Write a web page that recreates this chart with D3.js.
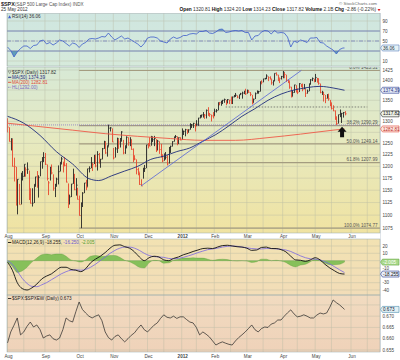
<!DOCTYPE html>
<html><head><meta charset="utf-8">
<script src="https://cdn.jsdelivr.net/npm/d3@7"></script>
<style>
body{margin:0;background:#fff}
svg{display:block}
text{font-family:"Liberation Sans",Arial,sans-serif}
</style>
</head><body>
<svg id="c" width="400" height="360"></svg>
<script>
// ---------------- DATA ----------------
const monthLabels = ["Aug","Sep","Oct","Nov","Dec","2012","Feb","Mar","Apr","May","Jun"];
const monthStartIdx = [0,23,44,65,86,107,127,147,169,189,211];
const midMonthIdx = [10,32,54,75,96,116,137,157,178,199,221];
const prevClose = 1292.28;
const closes = [
1286.94,1254.05,1260.34,1200.07,1199.38,1119.46,1172.53,1120.76,1172.64,1178.81,1204.49,1192.76,1193.89,1140.65,1123.53,1123.82,1162.35,1177.60,1159.27,1176.80,1210.08,1212.92,1218.89,
1204.42,1173.97,1165.24,1198.62,1185.90,1154.23,1162.27,1172.87,1188.68,1209.11,1216.01,1204.09,1202.09,1166.76,1129.56,1136.43,1162.95,1175.38,1151.06,1160.40,1131.42,
1099.23,1123.95,1144.03,1164.97,1155.46,1194.89,1195.54,1207.25,1203.66,1224.58,1200.86,1225.38,1209.88,1215.39,1238.25,1254.19,1229.05,1242.00,1284.59,1285.09,1253.30,
1218.28,1237.90,1261.15,1253.23,1261.12,1275.92,1229.10,1239.69,1263.85,1251.78,1257.81,1236.91,1216.13,1215.65,1192.98,1188.04,1161.79,1158.67,1192.55,1195.19,1246.96,
1244.58,1244.28,1257.08,1258.47,1261.01,1234.35,1255.19,1236.47,1225.73,1211.82,1215.75,1219.66,1205.35,1241.30,1243.72,1254.00,1265.33,1265.43,1249.64,1263.02,1257.60,
1277.06,1277.30,1281.06,1277.81,1280.70,1292.08,1292.48,1295.50,1289.09,1293.67,1308.04,1314.50,1315.38,1316.00,1314.65,1326.06,1318.43,1316.33,1313.01,1312.41,
1324.09,1325.54,1344.90,1344.33,1347.05,1349.96,1351.95,1342.64,1351.77,1350.50,1343.23,1358.04,1361.23,1362.21,1357.66,1363.46,1365.74,1367.59,1372.18,1365.68,
1374.09,1369.63,1364.33,1343.36,1352.63,1365.91,1370.87,1371.09,1395.95,1394.28,1402.60,1404.17,1409.75,1405.52,1402.89,1392.78,1397.11,1416.51,1412.52,1405.54,1403.28,1408.47,
1419.04,1413.38,1398.96,1398.08,1382.20,1358.59,1368.71,1387.57,1370.26,1369.57,1390.78,1385.14,1376.92,1378.53,1366.94,1371.97,1390.69,1399.98,1403.36,1397.91,
1405.82,1402.31,1391.57,1369.10,1369.58,1363.72,1354.58,1357.99,1353.39,1338.35,1330.66,1324.80,1304.86,1295.22,1315.99,1316.63,1318.86,1320.68,1317.82];
const highs = [
1307.38,1286.58,1261.70,1260.10,1218.70,1199.00,1172.88,1163.00,1186.29,1190.00,1204.49,1198.00,1208.50,1191.00,1154.00,1154.00,1162.35,1178.00,1190.00,1181.00,1210.10,1220.00,1230.71,
1229,1204,1169,1198.62,1204,1183,1163,1176,1202,1209.11,1220.39,1210,1220,1207,1164,1141,1163,1195,1184,1175,1155,
1138.99,1125.12,1146,1165,1171.4,1194.89,1200,1220,1207,1224.61,1224,1233,1229,1216,1240,1256,1254,1246,1292.66,1287,1284,
1240,1242,1263,1260,1262,1277.6,1258,1246,1266,1264,1264,1259,1239,1224,1215,1197,1187,1172.7,1197,1203,1247,
1251,1264,1267,1266,1267,1260,1258,1255,1249,1225,1228,1231,1224,1242,1245,1255,1265.4,1269,1266,1263.5,1264,
1284,1279,1283,1282,1282,1296,1294,1297,1295,1303,1308.5,1315,1315.5,1322,1317,1328,1333.5,1320,1316,1322,
1330,1329,1345,1345,1349,1351,1354,1351,1353,1351,1359,1359,1363,1367.8,1362,1364,1368,1371,1373,1378,
1376,1375,1370,1363,1354,1369,1374,1373,1396,1399,1403,1405,1414,1409,1409,1402,1399,1416.6,1419,1413,1404,1410,
1422.38,1419,1413,1401,1397,1383,1374,1388,1387,1379,1392,1390,1391,1390,1378,1376,1391,1402,1406,1403,
1415,1405,1404,1391,1373,1370,1363,1365,1366,1351,1345,1338,1326,1312,1316,1328,1320,1322,1324.2];
const lows = [
1274.73,1254.05,1234.56,1199.54,1168.09,1119.28,1101.54,1120.76,1121.09,1170,1178,1178,1184,1130,1123,1117,1124,1157,1155,1135,1179,1195,1209,
1203,1170,1140,1170,1183,1149,1136,1157,1162,1189,1204,1187,1200,1166,1114,1121,1136,1163,1150,1139,1131,
1098.92,1074.77,1116,1144,1150,1157,1187,1196,1190,1205,1198,1191,1206,1197,1215,1238,1227,1221,1243,1277,1253,
1215,1219,1229,1238,1241,1254,1226,1227,1240,1245,1244,1236,1209,1213,1183,1181,1161,1158.66,1174,1188,1196,
1239,1244,1245,1253,1244,1231,1235,1227,1219,1209,1212,1215,1202,1206,1229,1243,1254,1262,1246,1249,1257,
1258,1269,1266,1271,1274,1281,1285,1285,1277,1290,1290,1307,1309,1309,1306,1307,1313,1311,1300,1307,
1313,1321,1326,1338,1337,1341,1344,1338,1343,1341,1341,1341,1357,1358,1355,1353,1363,1354,1365,1363,
1366,1368,1360,1340,1344,1353,1366,1366,1371,1389,1394,1401,1402,1397,1401,1388,1386,1397,1411,1397,1392,1401,
1404,1404,1395,1392,1378,1357,1359,1368,1369,1365,1370,1382,1372,1377,1358,1366,1372,1388,1397,1394,
1395,1393,1388,1367,1363,1347,1343,1354,1349,1336,1328,1324,1304,1291.98,1295,1310,1296.5,1309,1314.23];

const ma50Idx = [0,10,20,30,40,50,56,64,72,80,88,96,104,112,120,128,136,144,152,160,168,176,184,192,200,207];
const ma50Val = [1312,1296,1268,1232,1205,1174,1170,1180,1190,1200,1215,1222,1232,1240,1255,1270,1290,1312,1330,1350,1365,1375,1381,1384,1380,1374.39];
const ma200Idx = [0,20,40,60,80,100,120,140,160,180,200,207];
const ma200Val = [1296,1288,1280,1272,1266,1261,1257,1257,1263,1271,1280,1282.81];

// RSI(14), sampled every 2 sessions (last = final session)
const rsiVal = [38,31,18,28,35,40,40,35,41,42, 50,52,44,47,42,46,52,50,45,40, 46,44,37,44,47,54,55,54,56,59,
 58,66,58,52,56,60,54,56,52,48, 44,38,45,56,58,58,56,50,48,46, 54,58,55,57,61,61,64,65,64,69,
 69,71,66,65,68,73,74,67,68,70, 71,70,71,67,67,52,60,61,68,71, 70,64,71,66,67,66,58,38,50,47,
 52,50,47,56,56,57,47,46,40,36, 32,24,33,36, 36.06];
// $SPX:$SPXEW ratio, sampled every 2 sessions
const ratioVal = [0.6581,0.6630,0.6660,0.6692,0.6617,0.6630,0.6655,0.6674,0.6652,0.6661,
 0.6640,0.6603,0.6612,0.6617,0.6600,0.6594,0.6603,0.6640,0.6692,0.6680,
 0.6674,0.6720,0.6763,0.6730,0.6714,0.6700,0.6692,0.6700,0.6706,0.6680,
 0.6630,0.6605,0.6594,0.6610,0.6617,0.6600,0.6586,0.6600,0.6615,0.6626,
 0.6645,0.6661,0.6640,0.6630,0.6645,0.6660,0.6670,0.6690,0.6706,0.6695,
 0.6692,0.6700,0.6690,0.6697,0.6697,0.6685,0.6674,0.6670,0.6650,0.6617,
 0.6630,0.6620,0.6608,0.6590,0.6572,0.6580,0.6586,0.6580,0.6575,0.6572,
 0.6590,0.6605,0.6617,0.6630,0.6645,0.6661,0.6640,0.6630,0.6645,0.6652,
 0.6650,0.6665,0.6670,0.6683,0.6683,0.6700,0.6715,0.6728,0.6710,0.6697,
 0.6700,0.6706,0.6700,0.6692,0.6692,0.6705,0.6714,0.6710,0.6714,0.6740,
 0.6772,0.6760,0.6750,0.6737, 0.6730];
// MACD(12,26,9) and signal, sampled every 3 sessions
const macdVal = [-2,-13,-30,-38,-40,-37,-32,-25,-21,-18, -13,-9,-9,-12,-13,-15,-11,-3,2,6,
 11,17,21,21.5,19,17,12,5,0,4, 6,5,1,0,3,5,8,10,12.5,14.5, 16.5,17,16.5,18.5,20.5,21,20,19,18.5,17,
 14,14.5,18,18.5,16.5,16.5,15,12,6,1, 0.5,-1,1,4,1,-5,-10,-14,-17.5,-18.255];
const signalVal = [0,-5,-14,-24,-31,-35,-35.5,-33,-30,-26, -22,-18,-15,-13,-12.5,-13,-12,-9,-5,0,
 5,10,14,17,18.5,18.5,17,14,10,7, 5.5,5,4.5,3,2.5,3,4.5,6.5,8.5,11, 13,15,16,17,18.5,19.5,20,19.5,18.5,17.5,
 16.5,16,16,16.5,16.5,16,15.5,14.5,12.5,9.5, 6.5,4,2.5,2,1,-1.5,-4.5,-8.5,-12.5,-16.25];

const fibLevels = [1423.51,1290.29,1249.14,1207.99,1074.77];
const fibLabels = ["0.0% 1423.51","38.2% 1290.29","50.0% 1249.14","61.8% 1207.99","100.0% 1074.77"];
const fibStartIdx = 44;
const hlLevel = 1292.00;
const resistLevel = 1334, resistIdx = [134, 221];
const trendPts = [[82,1158.66],[180.5,1424]];
const arrowAt = [205.5, 1288];
const priceTicks = [1075,1100,1125,1150,1175,1200,1225,1250,1275,1300,1325,1350,1375,1400,1425];
const rsiTicks = [90,70,50,30,10];
const macdTicks = [20,10,0,-10,-20,-30,-40];
const ratioTicks = [0.655,0.660,0.665,0.670,0.675];

// ---------------- LAYOUT ----------------
const svg = d3.select("#c");
const L = 7, R = 380;
const P = {rsi:[13.5,66], price:[67,233], macd:[239,295], ratio:[295,352]};
const FS = 4.6;
const x = d3.scaleLinear().domain([-0.3, 228.8]).range([L, R]);
const yR = d3.scaleLinear().domain([0,105]).range([P.rsi[1], P.rsi[0]]);
const yP = d3.scaleLog().domain([1065.5,1432.6]).range([P.price[1], P.price[0]]);
const yM = d3.scaleLinear().domain([-46.8,29.5]).range([P.macd[1], P.macd[0]]);
const yQ = d3.scaleLinear().domain([0.6541,0.6794]).range([P.ratio[1], P.ratio[0]]);

const step2 = d3.range(0,207,2).concat([207]);
const step3 = d3.range(0,208,3);

const defs = svg.append("defs");
function grad(id, stops){
  const g = defs.append("linearGradient").attr("id",id).attr("x1",0).attr("y1",0).attr("x2",0).attr("y2",1);
  stops.forEach(s=>g.append("stop").attr("offset",s[0]).attr("stop-color",s[1]));
}
grad("gRsi",[[0,"#cfe6e0"],[1,"#d6eadb"]]);
grad("gPrice",[[0,"#d7e9d6"],[0.45,"#e6e9bf"],[1,"#f0e3a2"]]);
grad("gMacd",[[0,"#f2e2b2"],[1,"#f2ddb8"]]);
grad("gRatio",[[0,"#f1dbc0"],[1,"#efd2b9"]]);
function clip(id, p){ defs.append("clipPath").attr("id",id).append("rect").attr("x",L).attr("y",p[0]).attr("width",R-L).attr("height",p[1]-p[0]); }
clip("cRsi",P.rsi); clip("cPrice",P.price); clip("cMacd",P.macd); clip("cRatio",P.ratio);

function panel(p, fill, ticks, yS){
  svg.append("rect").attr("x",L).attr("y",p[0]).attr("width",R-L).attr("height",p[1]-p[0]).attr("fill",`url(#${fill})`);
  const g = svg.append("g").attr("stroke","#b9bba5").attr("stroke-width",0.5).attr("opacity",0.8);
  monthStartIdx.concat(midMonthIdx).forEach(i=>{ const xx = x(i); if(xx>L && xx<R) g.append("line").attr("x1",xx).attr("x2",xx).attr("y1",p[0]).attr("y2",p[1]); });
  ticks.forEach(t=>{ const yy=yS(t); if(yy>p[0]&&yy<p[1]) g.append("line").attr("x1",L).attr("x2",R).attr("y1",yy).attr("y2",yy); });
}
panel(P.rsi,"gRsi",rsiTicks,yR);
panel(P.price,"gPrice",priceTicks,yP);
panel(P.macd,"gMacd",macdTicks,yM);
panel(P.ratio,"gRatio",ratioTicks,yQ);

// value tags (positions from the last data values)
const tags = [
  [yR(rsiVal[rsiVal.length-1]),"36.06","#5b7fc0","#e6f2f4","#234"],
  [yP(ma50Val[ma50Val.length-1]),"1374.39","#2a3a90","#e4ecf8","#1f2c7c"],
  [yP(closes[closes.length-1]),"1317.82","#222","#eef2e8","#111"],
  [yP(ma200Val[ma200Val.length-1]),"1282.81","#e04a3a","#fbe6e0","#c02a1a"],
  [yM(macdVal[macdVal.length-1]-signalVal[signalVal.length-1]),"-2.005","#6aaa48","#a8d88a","#fff"],
  [yM(macdVal[macdVal.length-1]),"-18.255","#2a3a90","#e8eef8","#111"],
  [yQ(ratioVal[ratioVal.length-1]),"0.673","#4a8fb0","#e2f0f4","#123"]
];
// axis tick labels (right); labels hidden behind a value tag are skipped
function rlabels(ticks, yS, fmt){
  ticks.forEach(t=>{
    const yy = yS(t);
    if(tags.some(g=>Math.abs(g[0]-yy)<4.6)) return;
    svg.append("text").attr("x",382.5).attr("y",yy+1.6).attr("font-size",FS).attr("fill","#444").text(fmt(t));
  });
}
rlabels(rsiTicks,yR,d=>d);
rlabels(priceTicks,yP,d=>d);
rlabels(macdTicks,yM,d=>d);
rlabels(ratioTicks,yQ,d3.format(".3f"));

// ---- RSI ----
const rsiG = svg.append("g").attr("clip-path","url(#cRsi)");
const rsiPts = step2.map((i,k)=>[i,rsiVal[k]]);
defs.append("clipPath").attr("id","cAbove").append("rect").attr("x",L).attr("y",P.rsi[0]).attr("width",R-L).attr("height",yR(70)-P.rsi[0]);
defs.append("clipPath").attr("id","cBelow").append("rect").attr("x",L).attr("y",yR(30)).attr("width",R-L).attr("height",P.rsi[1]-yR(30));
rsiG.append("path").datum(rsiPts).attr("clip-path","url(#cAbove)").attr("fill","#6fa9c4")
  .attr("d",d3.area().x(d=>x(d[0])).y0(yR(70)).y1(d=>yR(d[1])));
rsiG.append("path").datum(rsiPts).attr("clip-path","url(#cBelow)").attr("fill","#5f9fb8")
  .attr("d",d3.area().x(d=>x(d[0])).y0(yR(30)).y1(d=>yR(d[1])));
[70,30].forEach(v=>rsiG.append("line").attr("x1",L).attr("x2",R).attr("y1",yR(v)).attr("y2",yR(v)).attr("stroke","#6474b4").attr("stroke-width",0.8));
rsiG.append("line").attr("x1",L).attr("x2",R).attr("y1",yR(50)).attr("y2",yR(50)).attr("stroke","#6474b4").attr("stroke-width",0.7).attr("stroke-dasharray","4,1.5,1,1.5");
rsiG.append("path").datum(rsiPts).attr("fill","none").attr("stroke","#3d5ccc").attr("stroke-width",0.8)
  .attr("d",d3.line().x(d=>x(d[0])).y(d=>yR(d[1])));

// ---- PRICE ----
const pg = svg.append("g").attr("clip-path","url(#cPrice)");
fibLevels.forEach((v,k)=>{
  pg.append("line").attr("x1",x(fibStartIdx)).attr("x2",R).attr("y1",yP(v)).attr("y2",yP(v)).attr("stroke","#a49c80").attr("stroke-width",1.1);
  pg.append("text").attr("x",377.5).attr("y",yP(v)-1.2).attr("text-anchor","end").attr("font-size",FS).attr("fill","#555").text(fibLabels[k]);
});
pg.append("line").attr("x1",L).attr("x2",R).attr("y1",yP(hlLevel)).attr("y2",yP(hlLevel)).attr("stroke","#8a78c8").attr("stroke-width",0.8).attr("stroke-dasharray","1,1");
pg.append("line").attr("x1",x(resistIdx[0])).attr("x2",x(resistIdx[1])).attr("y1",yP(resistLevel)).attr("y2",yP(resistLevel)).attr("stroke","#555").attr("stroke-width",0.7).attr("stroke-dasharray","1.5,1.5");
// bars
closes.forEach((c,i)=>{
  const pc = i===0?prevClose:closes[i-1];
  const col = c>=pc?"#262626":"#e8472e";
  const xx = Math.round(x(i))+0.5;
  pg.append("line").attr("x1",xx).attr("x2",xx).attr("y1",yP(highs[i])).attr("y2",yP(lows[i])).attr("stroke",col).attr("stroke-width",0.9);
  pg.append("line").attr("x1",xx).attr("x2",xx+1.3).attr("y1",yP(c)).attr("y2",yP(c)).attr("stroke",col).attr("stroke-width",0.7);
});
pg.append("path").datum(ma200Idx.map((i,k)=>[i,ma200Val[k]])).attr("fill","none").attr("stroke","#ee5a48").attr("stroke-width",0.9)
  .attr("d",d3.line().curve(d3.curveMonotoneX).x(d=>x(d[0])).y(d=>yP(d[1])));
pg.append("path").datum(ma50Idx.map((i,k)=>[i,ma50Val[k]])).attr("fill","none").attr("stroke","#1f2c7c").attr("stroke-width",0.9)
  .attr("d",d3.line().curve(d3.curveMonotoneX).x(d=>x(d[0])).y(d=>yP(d[1])));
pg.append("line").attr("x1",x(trendPts[0][0])).attr("y1",yP(trendPts[0][1])).attr("x2",x(trendPts[1][0])).attr("y2",yP(trendPts[1][1]))
  .attr("stroke","#5563d8").attr("stroke-width",0.8);
{
  const ax = x(arrowAt[0]), ay = yP(arrowAt[1]);
  pg.append("path").attr("fill","#111").attr("d",`M${ax},${ay} l4.5,5 h-2.5 v5.5 h-4 v-5.5 h-2.5 Z`);
}

// ---- MACD ----
const mg = svg.append("g").attr("clip-path","url(#cMacd)");
const macdPts = step3.map((i,k)=>[i,macdVal[k],signalVal[k]]);
mg.append("path").datum(macdPts).attr("fill","#86c05a").attr("stroke","#4f8f33").attr("stroke-width",0.3)
  .attr("d",d3.area().curve(d3.curveMonotoneX).x(d=>x(d[0])).y0(yM(0)).y1(d=>yM(d[1]-d[2])));
mg.append("path").datum(macdPts).attr("fill","none").attr("stroke","#7a66e0").attr("stroke-width",0.8)
  .attr("d",d3.line().curve(d3.curveMonotoneX).x(d=>x(d[0])).y(d=>yM(d[2])));
mg.append("path").datum(macdPts).attr("fill","none").attr("stroke","#111").attr("stroke-width",0.9)
  .attr("d",d3.line().curve(d3.curveMonotoneX).x(d=>x(d[0])).y(d=>yM(d[1])));

// ---- RATIO ----
const qg = svg.append("g").attr("clip-path","url(#cRatio)");
qg.append("path").datum(step2.map((i,k)=>[i,ratioVal[k]])).attr("fill","none").attr("stroke","#222").attr("stroke-width",0.7)
  .attr("d",d3.line().x(d=>x(d[0])).y(d=>yQ(d[1])));

// panel borders
[P.rsi,P.price,P.macd,P.ratio].forEach(p=>svg.append("rect").attr("x",L).attr("y",p[0]).attr("width",R-L).attr("height",p[1]-p[0])
  .attr("fill","none").attr("stroke","#9aa").attr("stroke-width",0.5));
svg.append("line").attr("x1",R+0.5).attr("x2",R+0.5).attr("y1",P.rsi[0]).attr("y2",P.ratio[1]).attr("stroke","#9ab").attr("stroke-width",0.6).attr("stroke-dasharray","1,1");

// value tags on right axis
tags.forEach(([y, txt, stroke, fill, tcol])=>{
  svg.append("path").attr("d",`M380.5,${y} L382.5,${y-3} H399 V${y+3} H382.5 Z`).attr("fill",fill).attr("stroke",stroke).attr("stroke-width",0.6);
  svg.append("text").attr("x",383).attr("y",y+1.6).attr("font-size",FS).attr("fill",tcol).text(txt);
});

// month labels
[P.price[1]+4.9, P.ratio[1]+6].forEach(yy=>{
  monthLabels.forEach((m,k)=>svg.append("text").attr("x",x(monthStartIdx[k])+1).attr("y",yy).attr("text-anchor","middle")
    .attr("font-size",FS).attr("fill","#444").attr("font-weight",m==="2012"?"bold":"normal").text(m));
});

// header
svg.append("text").attr("x",1).attr("y",5.6).attr("font-size",5.4).attr("font-weight","bold").attr("fill","#222").text("$SPX");
svg.append("text").attr("x",15).attr("y",5.6).attr("font-size",4.6).attr("fill","#555").text("(S&P 500 Large Cap Index) INDX");
svg.append("text").attr("x",1).attr("y",11.3).attr("font-size",4.6).attr("fill","#333").text("25 May 2012");
svg.append("text").attr("x",377).attr("y",5).attr("text-anchor","end").attr("font-size",4.4).attr("fill","#666").text("© StockCharts.com");
{
  const t = svg.append("text").attr("x",376).attr("y",11.3).attr("text-anchor","end").attr("font-size",4.8).attr("fill","#333");
  const parts = [["Open"," 1320.81 "],["High"," 1324.20 "],["Low"," 1314.23 "],["Close"," 1317.82 "],["Volume"," 2.1B "],["Chg"," -2.86 (-0.22%)"]];
  parts.forEach(p=>{ t.append("tspan").attr("font-weight","bold").attr("fill","#111").text(p[0]); t.append("tspan").text(p[1]); });
  svg.append("path").attr("d","M377.5,9 h3 l-1.5,2.2 Z").attr("fill","#d22");
}
// legends
svg.append("path").attr("d","M8,18.3 l1.6,-3 l1.6,3 Z").attr("fill","#3d5ccc");
svg.append("text").attr("x",12).attr("y",18.3).attr("font-size",FS).attr("fill","#333").text("RSI(14) 36.06");

const lg = [[73.6,"$SPX (Daily) 1317.82","#333",null],[78.8,"MA(50) 1374.39","#1f2c7c","solid"],[83.8,"MA(200) 1282.81","#e04a3a","solid"],[88.8,"HL(1292.00)","#7a68c0","dot"]];
svg.append("path").attr("d","M8,70.8 h3.2 l-1.6,2.8 Z").attr("fill","none").attr("stroke","#444").attr("stroke-width",0.4);
lg.forEach(l=>{
  if(l[3]) svg.append("line").attr("x1",8).attr("x2",11.3).attr("y1",l[0]-1.5).attr("y2",l[0]-1.5).attr("stroke",l[2]).attr("stroke-width",0.9).attr("stroke-dasharray",l[3]==="dot"?"0.8,0.8":null);
  svg.append("text").attr("x",12).attr("y",l[0]).attr("font-size",FS).attr("fill",l[2]).text(l[1]);
});
svg.append("line").attr("x1",8).attr("x2",11.3).attr("y1",242.5).attr("y2",242.5).attr("stroke","#111").attr("stroke-width",0.9);
{
  const t = svg.append("text").attr("x",12).attr("y",244).attr("font-size",FS).attr("fill","#222");
  t.append("tspan").text("MACD(12,26,9) -18.255, ");
  t.append("tspan").attr("fill","#6a58d0").text("-16.250, ");
  t.append("tspan").attr("fill","#4f9a30").text("-2.005");
}
svg.append("line").attr("x1",8).attr("x2",11.3).attr("y1",298.5).attr("y2",298.5).attr("stroke","#222").attr("stroke-width",0.9);
svg.append("text").attr("x",12).attr("y",300).attr("font-size",FS).attr("fill","#222").text("$SPX:$SPXEW (Daily) 0.673");
</script>
</body></html>
